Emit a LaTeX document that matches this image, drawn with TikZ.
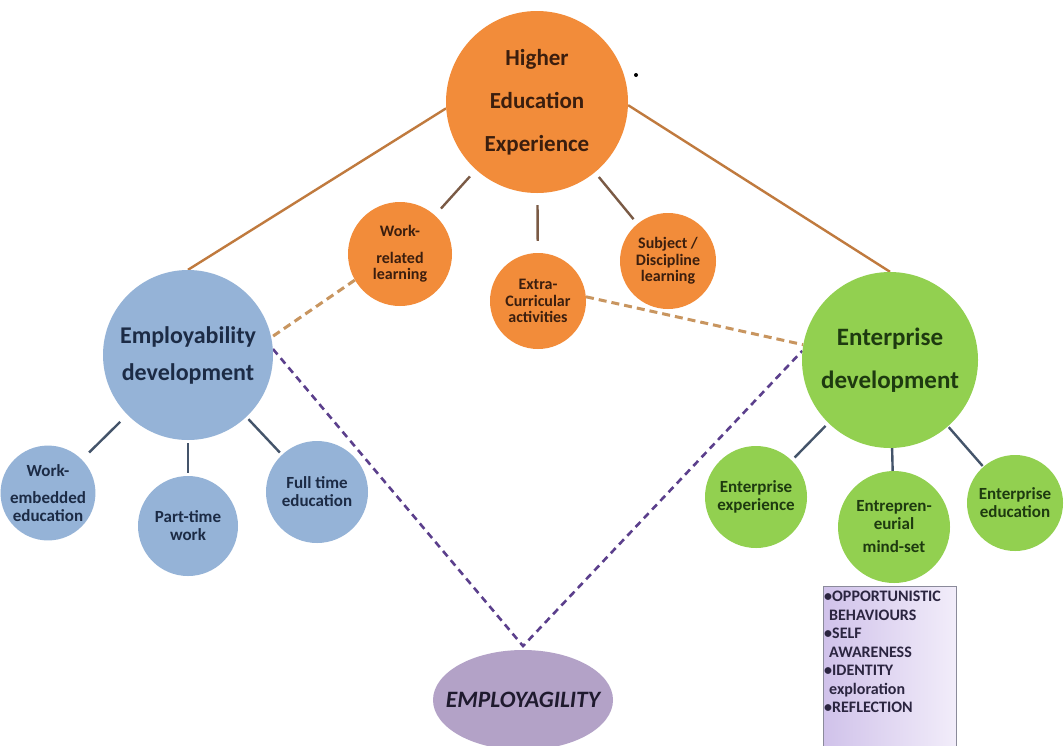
\documentclass[tikz,border=0pt]{standalone}
\usepackage{fontspec}
\setmainfont{Carlito}
\usetikzlibrary{shapes.geometric}
\pgfdeclarelayer{background}
\pgfsetlayers{background,main}
\definecolor{orgfill}{HTML}{F28C3A}
\definecolor{orgtext}{HTML}{3B1E0E}
\definecolor{bluefill}{HTML}{95B3D7}
\definecolor{bluetext}{HTML}{1C2B45}
\definecolor{greenfill}{HTML}{92D050}
\definecolor{greentext}{HTML}{1E3A10}
\definecolor{ellfill}{HTML}{B3A2C7}
\definecolor{elltext}{HTML}{1F1A2E}
\definecolor{orline}{HTML}{C07A3E}
\definecolor{brline}{HTML}{7A5A45}
\definecolor{slateline}{HTML}{44546A}
\definecolor{tanline}{HTML}{C8955F}
\definecolor{purpline}{HTML}{5B3F8C}
\definecolor{boxleft}{HTML}{D0C2EA}
\definecolor{boxright}{HTML}{F2EDFA}
\definecolor{boxborder}{HTML}{8A8A9A}
\definecolor{boxtext}{HTML}{2B2540}
\tikzset{
  bubble/.style={circle, inner sep=0pt, align=center, font=\bfseries},
  orgbig/.style={bubble, fill=orgfill, text=orgtext, minimum size=182pt, font=\bfseries\fontsize{23}{43}\selectfont},
  orgsmall/.style={bubble, fill=orgfill, text=orgtext, font=\bfseries\fontsize{16}{16.5}\selectfont},
  bluebig/.style={bubble, fill=bluefill, text=bluetext, minimum size=170pt, font=\bfseries\fontsize{24}{37}\selectfont},
  bluesmall/.style={bubble, fill=bluefill, text=bluetext, font=\bfseries\fontsize{17}{18}\selectfont},
  greenbig/.style={bubble, fill=greenfill, text=greentext, minimum size=176pt, font=\bfseries\fontsize{25}{43}\selectfont},
  greensmall/.style={bubble, fill=greenfill, text=greentext, font=\bfseries\fontsize{17}{18}\selectfont},
  mainline/.style={draw=orline, line width=2.4pt},
  subline/.style={line width=2.4pt},
  tandash/.style={draw=tanline, line width=3pt, dash pattern=on 8pt off 5pt},
  purpdash/.style={draw=purpline, line width=2.6pt, dash pattern=on 7pt off 5pt},
}
\begin{document}
\begin{tikzpicture}[x=1pt, y=-1pt]
\useasboundingbox (0,0) rectangle (1064,745);
\clip (0,0) rectangle (1064,745);

% nodes
\node[orgbig] (hee) at (537,102) {Higher\\Education\\Experience};
\node[fill=black, circle, inner sep=0pt, minimum size=4pt] (dot) at (636,75) {};

\node[orgsmall, minimum size=104pt] (wrl) at (400,254) {Work-\\[10pt]related\\learning};
\node[orgsmall, minimum size=96pt] (ecu) at (538,301) {Extra-\\Curricular\\activities};
\node[orgsmall, minimum size=96pt] (sdl) at (668,261) {Subject /\\Discipline\\learning};

\node[bluebig] (emp) at (188,355) {Employability\\development};
\node[bluesmall, minimum size=93pt] (web) at (48,493) {Work-\\[9pt]embedded\\education};
\node[bluesmall, minimum size=100pt] (ptw) at (188,526) {Part-time\\work};
\node[bluesmall, minimum size=102pt] (fte) at (317,492) {Full time\\education};

\node[greenbig] (ent) at (890,360) {Enterprise\\development};
\node[greensmall, minimum size=102pt] (eex) at (756,497) {Enterprise\\experience};
\node[greensmall, minimum size=112pt] (emi) at (894,527) {Entrepren-\\eurial\\[5pt]mind-set};
\node[greensmall, minimum size=96pt] (eed) at (1015,503) {Enterprise\\education};

\node[ellipse, fill=ellfill, minimum width=180pt, minimum height=100pt, inner sep=0pt] (ell) at (523,700) {};
\node[text=elltext, inner sep=0pt, font=\bfseries\itshape\fontsize{23.5}{26}\selectfont] (elltxt) at (ell.center) {EMPLOYAGILITY};

\node[draw=boxborder, line width=1pt, left color=boxleft, right color=boxright, rectangle,
      minimum width=133pt, minimum height=175pt, anchor=north west, inner sep=0pt] (box) at (823,586) {};
\node[anchor=north west, align=left, text=boxtext, inner sep=0pt,
      font=\bfseries\fontsize{16}{18.5}\selectfont] (boxtxt) at (824,591)
  {•OPPORTUNISTIC\\\hspace*{5pt}BEHAVIOURS\\•SELF\\\hspace*{5pt}AWARENESS\\•IDENTITY\\\hspace*{5pt}exploration\\•REFLECTION};

\coordinate (apex) at (523,646);

\begin{pgfonlayer}{background}
\fill[white] (0,0) rectangle (1064,745);
% main connectors
\draw[mainline] (hee.184) -- (emp.north);
\draw[mainline] (hee.-2) -- (ent.north);

% hub connectors
\draw[subline, draw=brline, shorten >=9pt, shorten <=9pt] (hee) -- (wrl);
\draw[subline, draw=brline, shorten >=12pt, shorten <=12pt] (hee) -- (ecu);
\draw[subline, draw=brline, shorten >=6pt, shorten <=6pt] (hee) -- (sdl);
\draw[subline, draw=slateline, shorten >=10pt, shorten <=10pt] (emp) -- (web);
\draw[subline, draw=slateline, shorten >=3pt, shorten <=3pt] (emp) -- (ptw);
\draw[subline, draw=slateline, shorten >=3pt, shorten <=3pt] (emp) -- (fte);
\draw[subline, draw=slateline, shorten >=4pt, shorten <=4pt] (ent) -- (eex);
\draw[subline, draw=slateline, shorten >=-1pt, shorten <=-1pt] (ent) -- (emi);
\draw[subline, draw=slateline, shorten >=1pt, shorten <=1pt] (ent) -- (eed);

% dashed links
\draw[tandash] (wrl.210) -- (emp.12);
\draw[tandash] (ecu.5) -- (ent.170);
\draw[purpdash] (emp.4) -- (apex) -- (ent.174);
\end{pgfonlayer}
\end{tikzpicture}
\end{document}
